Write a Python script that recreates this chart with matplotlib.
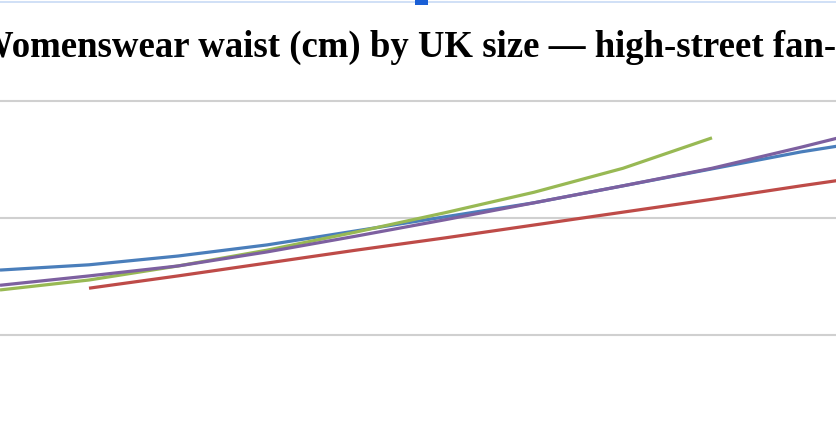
import matplotlib
matplotlib.use("Agg")
import matplotlib.pyplot as plt
from matplotlib.patches import Rectangle
from matplotlib.lines import Line2D

sizes_full = [4, 6, 8, 10, 12, 14, 16, 18, 20, 22, 24]
blue = [71.1, 72.0, 73.5, 75.4, 77.8, 80.2, 82.6, 85.5, 88.4, 91.3, 93.7]
sizes_green = [4, 6, 8, 10, 12, 14, 16, 18, 20]
green = [67.7, 69.4, 71.8, 74.5, 77.6, 80.9, 84.4, 88.5, 93.7]
purple = [68.5, 70.1, 71.8, 74.2, 76.9, 79.7, 82.6, 85.5, 88.5, 92.1, 95.9]
sizes_red = [6, 8, 10, 12, 14, 16, 18, 20, 22, 24]
red = [68.0, 70.1, 72.3, 74.5, 76.6, 78.8, 81.0, 83.2, 85.5, 87.7]

fig = plt.figure(figsize=(8.37, 4.42), dpi=100)
ax = fig.add_axes([0, 0, 1, 1])
ax.set_xlim(4, 4 + 837 / 44.5)
ax.set_ylim(100 - 341 / 5.85, 100 + 101 / 5.85)
for v in [60, 80, 100]:
    ax.axhline(v, color="#d0d0d0", lw=1.5, zorder=1)
for xs, ys, c in [(sizes_full, blue, "#4a7ebb"), (sizes_red, red, "#be4b48"),
                  (sizes_green, green, "#98b954"), (sizes_full, purple, "#7d60a0")]:
    ax.plot(xs, ys, color=c, lw=2.3, solid_capstyle="butt", zorder=3)
ax.axis("off")

fig.add_artist(Line2D([0, 1], [1 - 1.5/442]*2, transform=fig.transFigure, color="#c8daf5", lw=1.2, zorder=5))
fig.add_artist(Rectangle((415/837, 1 - 5/442), 13/837, 5/442, transform=fig.transFigure,
                         facecolor="#1a5fd6", edgecolor="none", zorder=6))
fig.text(432/837, 1 - 47/442, "Womenswear waist (cm) by UK size — high-street fan-out",
         ha="center", va="center", fontsize=26.5, fontweight="bold", family="Liberation Serif")
fig.savefig("out.png", dpi=100)
